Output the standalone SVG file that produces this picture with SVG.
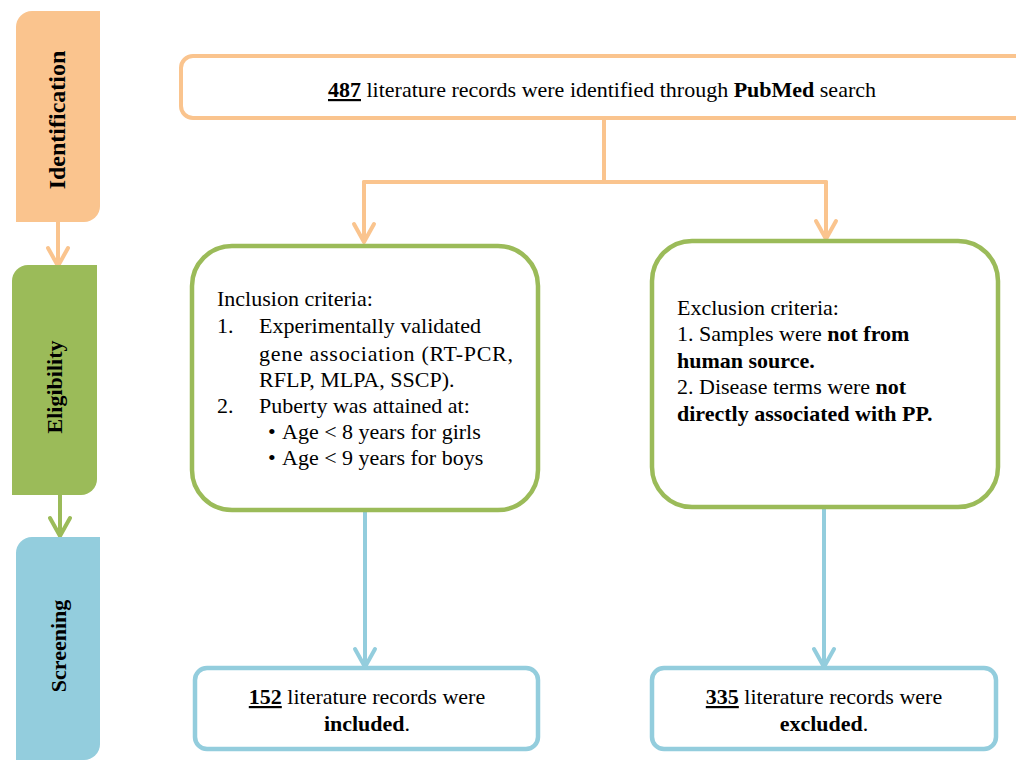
<svg xmlns="http://www.w3.org/2000/svg" width="1016" height="760" viewBox="0 0 1016 760">
<style>
.box-o{fill:#fff;stroke:#FAC48E;stroke-width:4;}
.box-g{fill:#fff;stroke:#9BBB59;stroke-width:4.5;}
.box-b{fill:#fff;stroke:#93CDDD;stroke-width:4.5;}
.ln-o{fill:none;stroke:#FAC48E;stroke-width:4;stroke-linecap:round;stroke-linejoin:round;}
.ln-g{fill:none;stroke:#9BBB59;stroke-width:4;stroke-linecap:round;stroke-linejoin:round;}
.ln-b{fill:none;stroke:#93CDDD;stroke-width:4;stroke-linecap:round;stroke-linejoin:round;}
</style>
<rect width="1016" height="760" fill="#fff"/>

<g id="connectors">
<path class="ln-o" d="M58,222 V266 M48,248 L58,266 L68,248"/>
<path class="ln-g" d="M60,495 V536 M50,518 L60,536 L70,518"/>
<path class="ln-o" d="M604,118 V182 M364,182 H826"/>
<path class="ln-o" d="M364,182 V242 M354,224 L364,242 L374,224"/>
<path class="ln-o" d="M826,182 V239 M816,221 L826,239 L836,221"/>
<path class="ln-b" d="M365,512 V667 M355,649 L365,667 L375,649"/>
<path class="ln-b" d="M824,509 V667 M814,649 L824,667 L834,649"/>
</g>

<g id="identification">
<path d="M16,27 A16,16 0 0 1 32,11 H100 V206 A16,16 0 0 1 84,222 H16 Z" fill="#FAC48E"/>
<text font-family="Liberation Serif" font-size="24" font-weight="bold" text-anchor="middle" transform="translate(65,120) rotate(-90)">Identification</text>
</g>
<g id="eligibility">
<path d="M12,281 A16,16 0 0 1 28,265 H97 V479 A16,16 0 0 1 81,495 H12 Z" fill="#9BBB59"/>
<text font-family="Liberation Serif" font-size="22" font-weight="bold" text-anchor="middle" transform="translate(62,387) rotate(-90)">Eligibility</text>
</g>
<g id="screening">
<path d="M16,553 A16,16 0 0 1 32,537 H100 V744 A16,16 0 0 1 84,760 H16 Z" fill="#93CDDD"/>
<text font-family="Liberation Serif" font-size="22" font-weight="bold" text-anchor="middle" transform="translate(66,646) rotate(-90)">Screening</text>
</g>

<g id="pubmed">
<rect class="box-o" x="181" y="56" width="860" height="62" rx="12"/>
<text font-family="Times New Roman, Liberation Serif, serif" font-size="22" x="602" y="97" text-anchor="middle"><tspan font-weight="bold" text-decoration="underline">487</tspan> literature records were identified through <tspan font-weight="bold">PubMed</tspan> search</text>
</g>

<g id="inclusion" font-family="Times New Roman, Liberation Serif, serif" font-size="22">
<rect class="box-g" x="192" y="246" width="346" height="264" rx="40"/>
<text x="217" y="306">Inclusion criteria:</text>
<text x="217" y="333">1.</text>
<text x="259" y="333" textLength="222" lengthAdjust="spacing">Experimentally validated</text>
<text x="259" y="361" textLength="254" lengthAdjust="spacing">gene association (RT-PCR,</text>
<text x="259" y="387">RFLP, MLPA, SSCP).</text>
<text x="217" y="413">2.</text>
<text x="259" y="413">Puberty was attained at:</text>
<text x="268" y="439">•</text>
<text x="282" y="439">Age &lt; 8 years for girls</text>
<text x="268" y="465">•</text>
<text x="282" y="465">Age &lt; 9 years for boys</text>
</g>

<g id="exclusion" font-family="Times New Roman, Liberation Serif, serif" font-size="22">
<rect class="box-g" x="652" y="241" width="346" height="266" rx="40"/>
<text x="677" y="315">Exclusion criteria:</text>
<text x="677" y="341">1. Samples were <tspan font-weight="bold">not from</tspan></text>
<text font-weight="bold" x="677" y="368">human source.</text>
<text x="677" y="394">2. Disease terms were <tspan font-weight="bold">not</tspan></text>
<text font-weight="bold" x="677" y="421">directly associated with PP.</text>
</g>

<g id="included" font-family="Times New Roman, Liberation Serif, serif" font-size="22">
<rect class="box-b" x="195" y="668" width="343" height="81" rx="12"/>
<text x="367" y="704" text-anchor="middle"><tspan font-weight="bold" text-decoration="underline">152</tspan> literature records were</text>
<text x="367" y="731" text-anchor="middle"><tspan font-weight="bold">included</tspan>.</text>
</g>
<g id="excluded" font-family="Times New Roman, Liberation Serif, serif" font-size="22">
<rect class="box-b" x="652" y="668" width="344" height="81" rx="12"/>
<text x="824" y="704" text-anchor="middle"><tspan font-weight="bold" text-decoration="underline">335</tspan> literature records were</text>
<text x="824" y="731" text-anchor="middle"><tspan font-weight="bold">excluded</tspan>.</text>
</g>
</svg>
